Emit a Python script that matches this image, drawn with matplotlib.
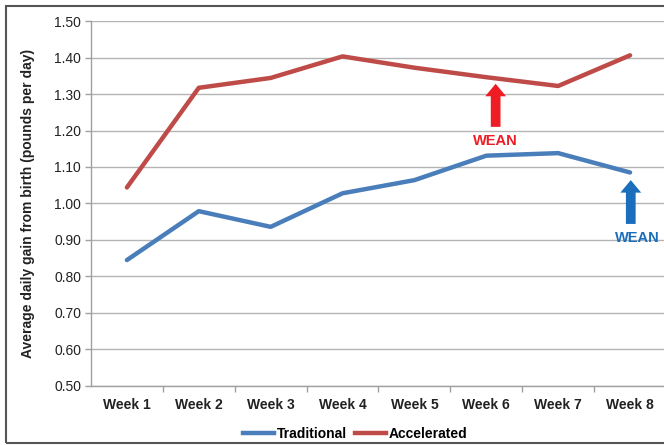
import matplotlib.pyplot as plt
from matplotlib.patches import Rectangle
from matplotlib.lines import Line2D

weeks = ["Week 1", "Week 2", "Week 3", "Week 4", "Week 5", "Week 6", "Week 7", "Week 8"]
traditional = [0.845, 0.979, 0.936, 1.028, 1.064, 1.131, 1.138, 1.085]
accelerated = [1.044, 1.317, 1.344, 1.403, 1.372, 1.346, 1.322, 1.406]
yticks = [0.50, 0.60, 0.70, 0.80, 0.90, 1.00, 1.10, 1.20, 1.30, 1.40, 1.50]

plt.rcParams['font.family'] = ['Liberation Sans', 'DejaVu Sans']

fig = plt.figure(figsize=(6.64, 4.45), dpi=100)
ax = fig.add_axes([0.137, 0.1326, 0.866, 0.8202])

x = list(range(len(weeks)))
ax.plot(x, traditional, color='#4a7ebb', lw=3.2, solid_capstyle='round', label='Traditional')
ax.plot(x, accelerated, color='#be4b48', lw=3.2, solid_capstyle='round', label='Accelerated')

ax.set_xlim(-0.5, 7.5)
ax.set_ylim(0.5, 1.5)
ax.set_yticks(yticks)
ax.set_yticklabels(['%.2f' % v for v in yticks], fontsize=10, color='#222222')
ax.set_xticks(x)
ax.set_xticklabels(weeks, fontsize=10, fontweight='bold', color='#222222')
ax.tick_params(axis='x', length=0, pad=9)
ax.set_xticks([i + 0.5 for i in x[:-1]], minor=True)
ax.tick_params(axis='x', which='minor', length=4, color='#a0a0a0', width=1)
ax.tick_params(axis='y', length=4, color='#a0a0a0', width=1, pad=3)
ax.grid(axis='y', color='#b4b4b4', lw=1)
ax.set_axisbelow(True)
for s in ['top', 'right']:
    ax.spines[s].set_visible(False)
for s in ['left', 'bottom']:
    ax.spines[s].set_color('#a0a0a0')
    ax.spines[s].set_linewidth(1)

ax.set_ylabel('Average daily gain from birth (pounds per day)', fontsize=10,
              fontweight='bold', color='#222222', labelpad=14)

# wean arrows
ax.annotate('', xy=(5.13, 1.328), xytext=(5.13, 1.21),
            arrowprops=dict(width=7, headwidth=15, headlength=9, color='#ee1c25', lw=0))
ax.text(5.13, 1.17, 'WEAN', color='#ee1c25', fontsize=10.5, fontweight='bold',
        ha='center', va='center')
ax.annotate('', xy=(7.01, 1.064), xytext=(7.01, 0.944),
            arrowprops=dict(width=7, headwidth=15, headlength=9, color='#1a6ebc', lw=0))
ax.text(7.1, 0.905, 'WEAN', color='#1a6ebc', fontsize=10.5, fontweight='bold',
        ha='center', va='center')

handles = [Line2D([], [], color='#4a7ebb', lw=3.2), Line2D([], [], color='#be4b48', lw=3.2)]
fig.legend(handles, ['Traditional', 'Accelerated'], loc='center', bbox_to_anchor=(0.535, 0.025),
           ncol=2, frameon=False, prop={'weight': 'bold', 'size': 10},
           handlelength=2.2, handletextpad=0.2, columnspacing=0.6)

fig.patches.append(Rectangle((6 / 664, 2 / 445), 1.0, 1 - 7.5 / 445, transform=fig.transFigure,
                             fill=False, edgecolor='#555555', lw=1.5))

fig.savefig('out.png', dpi=100)
